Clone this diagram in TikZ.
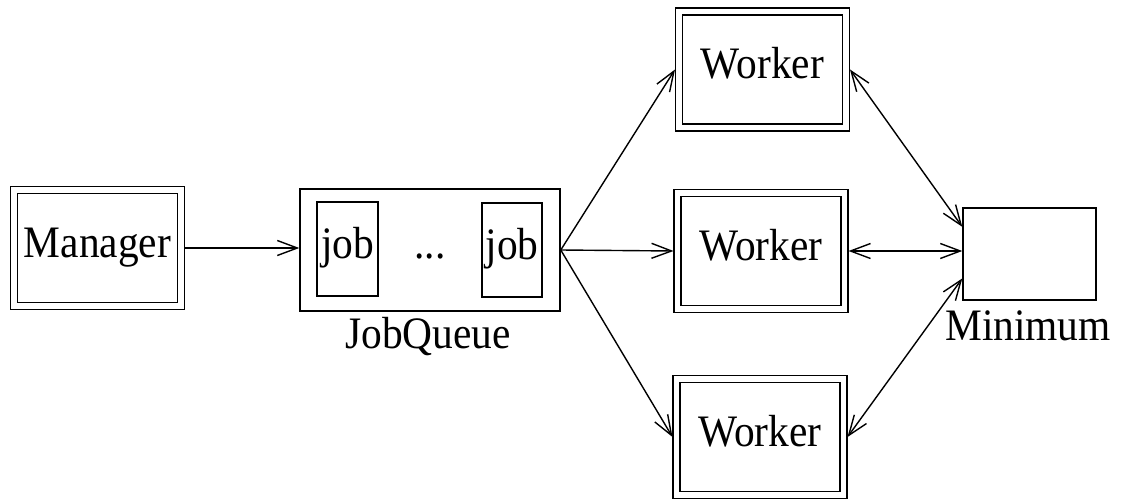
\documentclass[tikz,border=0pt]{standalone}
\usepackage{fontspec}
\setmainfont{Liberation Serif}[FakeStretch=0.92]
\usetikzlibrary{arrows.meta}
\begin{document}
\begin{tikzpicture}[x=1pt,y=-1pt,
  every node/.style={font=\fontsize{45}{54}\selectfont},
  lbl/.style={inner sep=0pt, text height=30pt, text depth=12pt},
  dbox/.style={lbl, draw, double, double distance=5.8pt, line width=1.5pt,
    minimum width=167pt, minimum height=116pt, outer sep=4pt},
  sbox/.style={lbl, draw, line width=1.5pt},
  link/.style={line width=1.4pt, -{Straight Barb[length=20pt,width=15pt]}},
  dlink/.style={line width=1.4pt, {Straight Barb[length=20pt,width=15pt]}-{Straight Barb[length=20pt,width=15pt]}},
]
\useasboundingbox (0,0) rectangle (1121,500);

% manager
\node[dbox] (manager) at (97.5,248) {Manager};

% job queue with two job slots
\node[sbox, minimum width=260pt, minimum height=122pt] (queue) at (430,250) {};
\node[sbox, minimum width=61pt, minimum height=94pt] (job1) at (347.5,249) {job};
\node[sbox, minimum width=60pt, minimum height=94pt] (job2) at (512,250) {job};
\node[lbl] (dots) at (430,249) {...};
\node[anchor=base, inner sep=0pt] (queuelbl) at (428,348) {JobQueue};

% workers
\node[dbox] (w1) at (762.5,69.5) {Worker};
\node[dbox] (w2) at (761,251) {Worker};
\node[dbox] (w3) at (760,437) {Worker};

% minimum
\node[sbox, minimum width=133pt, minimum height=92pt] (minimum) at (1029.5,254) {};
\node[anchor=base, inner sep=0pt] (minlbl) at (1028,340) {Minimum};

% connectors
\draw[link] (manager.east) -- (manager.east -| queue.west);
\draw[link] (queue.east) -- (w1.west);
\draw[link] (queue.east) -- (w2.west);
\draw[link] (queue.east) -- (w3.west);
\draw[dlink] (w1.east) -- (minimum.158);
\draw[dlink] (w2.east) -- (w2.east -| minimum.west);
\draw[dlink] (w3.east) -- (minimum.200);
\end{tikzpicture}
\end{document}
